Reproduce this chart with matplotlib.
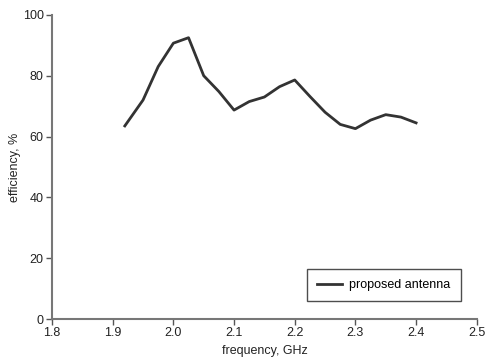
import matplotlib
matplotlib.use('Agg')
import matplotlib.pyplot as plt

plt.rcParams['font.family'] = ['Liberation Sans', 'DejaVu Sans']

freq = [1.92, 1.95, 1.975, 2.0, 2.025, 2.05, 2.075, 2.1, 2.125, 2.15,
        2.175, 2.2, 2.225, 2.25, 2.275, 2.3, 2.325, 2.35, 2.375, 2.4]
eff = [63.5, 72.0, 83.0, 90.7, 92.5, 80.0, 74.8, 68.7, 71.5, 73.0,
       76.4, 78.6, 73.2, 68.0, 64.0, 62.6, 65.4, 67.2, 66.4, 64.5]

fig = plt.figure(figsize=(4.86, 3.63), dpi=100)
ax = fig.add_axes([0.107, 0.121, 0.874, 0.838])

ax.plot(freq, eff, color='#333333', lw=2, label='proposed antenna')

ax.set_xlim(1.8, 2.5)
ax.set_ylim(0, 100)
ax.set_xticks([1.8, 1.9, 2.0, 2.1, 2.2, 2.3, 2.4, 2.5])
ax.set_xticklabels(['1.8', '1.9', '2.0', '2.1', '2.2', '2.3', '2.4', '2.5'])
ax.set_yticks([0, 20, 40, 60, 80, 100])

for s in ['top', 'right']:
  ax.spines[s].set_visible(False)
for s in ['left', 'bottom']:
  ax.spines[s].set_color('#777777')
  ax.spines[s].set_linewidth(1.5)
ax.tick_params(labelsize=9, color='#555555', length=4, width=1,
               labelcolor='#222222', pad=2)

ax.set_xlabel('frequency, GHz', fontsize=9, color='#222222', labelpad=4)
ax.set_ylabel('efficiency, %', fontsize=9, color='#222222', labelpad=1)

leg = ax.legend(loc='lower right', bbox_to_anchor=(0.962, 0.059),
                fontsize=9, frameon=True, fancybox=False,
                handlelength=2.0, borderpad=0.8, handletextpad=0.6,
                borderaxespad=0)
leg.get_frame().set_edgecolor('#222222')
leg.get_frame().set_linewidth(1)

fig.savefig('out.png', dpi=100)
